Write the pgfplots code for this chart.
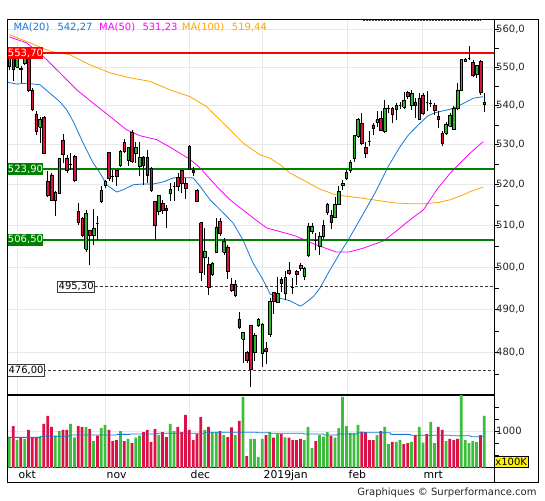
\documentclass[border=0pt]{standalone}
\usepackage{pgfplots}
\pgfplotsset{compat=1.18}
\usepackage{pgfplotstable}
\usepackage{fontspec}
\setmainfont{DejaVu Sans}
\definecolor{cup}{RGB}{50,180,50}
\definecolor{cdn}{RGB}{215,20,60}
\definecolor{vup}{RGB}{60,190,60}
\definecolor{vdn}{RGB}{220,15,70}
\definecolor{ma20}{RGB}{20,120,215}
\definecolor{ma50}{RGB}{255,0,255}
\definecolor{ma100}{RGB}{255,165,0}
\definecolor{lgreen}{RGB}{0,128,0}
\definecolor{gridc}{RGB}{232,232,232}
\definecolor{dgray}{RGB}{60,60,60}

\pgfplotstableread{
i O H L C
-2 550.2 553.5 549.3 552.5
-1 552.5 553.5 546.3 549.5
0 550.0 553.0 549.8 552.5
1 549.7 550.2 545.8 549.5
2 551.1 553.8 550.5 552.8
3 552.8 554.0 543.5 544.1
4 544.1 544.5 538.5 539.0
5 537.9 538.5 532.5 533.4
6 534.5 537.2 530.4 536.6
7 537.0 537.3 527.7 527.9
8 520.8 523.3 517.1 517.5
9 522.5 523.0 515.9 516.3
10 516.1 518.4 512.4 518.2
11 518.0 526.5 517.7 526.5
12 531.2 532.8 525.4 527.5
13 526.7 527.5 523.0 523.7
14 525.2 527.9 523.7 525.2
15 527.1 527.5 520.8 521.2
16 513.4 515.5 510.1 510.7
17 511.8 512.0 507.3 507.7
18 504.3 513.7 503.7 513.0
19 508.9 509.0 500.5 507.7
20 507.7 514.0 505.3 509.3
21 510.5 512.2 506.5 510.5
22 515.9 519.6 515.5 518.6
23 519.8 521.2 519.2 520.8
24 528.1 528.3 521.0 521.7
25 522.1 523.7 520.8 522.1
26 523.5 523.7 519.8 522.1
27 524.8 528.8 524.5 528.3
28 530.6 531.4 528.0 528.3
29 526.1 529.5 524.6 529.4
30 533.2 533.8 525.4 525.8
31 527.9 530.6 525.4 529.4
32 524.6 530.6 522.1 526.9
33 527.0 527.2 520.0 524.8
34 526.9 528.7 520.4 522.5
35 524.2 524.3 518.2 518.6
36 515.9 515.9 506.5 510.1
37 513.4 517.5 512.6 517.3
38 515.5 516.3 512.8 513.8
39 514.3 515.1 509.4 513.7
40 518.0 520.4 515.9 518.8
41 519.7 520.8 515.9 519.7
42 521.8 522.9 518.4 519.6
43 523.6 523.7 517.9 520.4
44 520.4 521.7 516.6 519.2
45 529.7 530.0 523.7 523.9
46 523.7 524.5 522.2 523.2
47 518.6 519.0 515.7 516.0
48 510.7 510.9 496.6 498.8
49 502.3 509.4 498.2 503.9
50 500.7 502.4 493.4 495.2
51 498.3 501.2 497.9 500.9
52 503.6 511.8 503.3 509.6
53 511.1 511.8 507.4 508.1
54 503.5 506.9 502.8 506.1
55 504.8 505.3 497.2 498.9
56 496.0 497.4 494.2 494.4
57 493.2 497.0 492.9 496.0
58 487.7 489.5 485.4 485.9
59 483.1 484.7 477.7 484.6
60 480.1 480.3 477.6 478.2
61 486.2 486.4 472.2 476.1
62 480.0 484.5 478.0 484.1
63 486.3 488.0 486.0 487.7
64 479.9 486.8 476.8 486.6
65 480.9 482.5 477.5 480.2
66 484.3 492.6 483.5 492.0
67 494.0 494.2 489.0 491.8
68 491.7 497.6 491.5 493.7
69 497.0 497.6 494.2 496.2
70 493.8 499.1 492.2 497.5
71 499.3 501.3 498.2 498.6
72 495.2 497.5 493.6 495.2
73 499.0 499.3 495.8 498.2
74 500.5 500.9 499.0 499.7
75 497.8 500.1 496.8 499.7
76 502.8 510.5 502.5 509.7
77 508.5 510.6 508.0 509.9
78 506.5 508.1 504.1 506.5
79 504.9 508.3 502.8 507.5
80 507.3 511.4 506.8 510.1
81 513.2 515.6 512.6 515.1
82 512.6 513.8 509.1 510.7
83 511.9 517.0 511.8 515.1
84 515.3 519.7 515.0 518.5
85 519.8 521.2 518.8 520.4
86 521.7 523.7 521.2 523.1
87 523.6 526.2 522.9 525.6
88 526.5 532.5 525.8 532.3
89 532.1 536.9 531.7 536.5
90 535.5 538.2 530.0 530.4
91 529.4 530.8 526.7 527.9
92 531.0 533.4 529.7 531.0
93 535.1 535.5 532.5 534.1
94 535.8 538.5 534.6 536.4
95 536.8 538.5 533.4 533.8
96 533.4 541.5 533.0 539.3
97 539.3 540.2 538.1 539.3
98 539.3 539.7 535.5 537.8
99 539.2 540.6 536.4 540.0
100 540.2 541.0 539.2 540.2
101 539.7 543.5 539.2 541.3
102 543.5 543.8 541.8 542.3
103 540.0 544.1 538.9 543.2
104 541.0 541.9 536.8 540.2
105 536.6 543.3 536.3 542.0
106 542.8 543.2 537.5 538.1
107 540.9 543.7 538.5 540.9
108 540.6 541.5 539.6 540.6
109 540.0 540.6 537.6 538.7
110 537.2 538.5 534.2 536.4
111 533.0 533.4 529.6 530.4
112 533.0 535.9 532.5 535.3
113 534.8 538.1 534.5 537.6
114 534.0 539.8 533.8 539.4
115 539.3 545.8 538.9 544.1
116 544.1 552.1 543.7 552.0
117 551.5 552.4 551.3 552.1
118 552.4 555.5 552.0 552.4
119 551.2 552.0 547.5 547.8
120 548.2 550.6 547.2 550.4
121 551.5 552.0 542.8 543.5
122 540.4 543.2 538.4 541.0
}\candles

\pgfplotstableread{
i V c
-2 894 1
-1 1083 0
0 850 1
1 889 0
2 867 1
3 1017 0
4 889 0
5 889 0
6 905 1
7 1117 0
8 1250 0
9 1067 0
10 922 1
11 1000 1
12 1017 0
13 1017 0
14 1117 1
15 894 1
16 1083 0
17 1067 0
18 1067 1
19 1033 0
20 833 1
21 922 0
22 1050 1
23 1100 1
24 1017 0
25 833 0
26 850 0
27 1000 1
28 833 0
29 867 1
30 800 0
31 889 1
32 922 1
33 983 0
34 1017 0
35 817 0
36 1033 0
37 933 1
38 983 0
39 900 0
40 1117 1
41 1000 1
42 1067 0
43 983 0
44 1267 0
45 1017 0
46 850 0
47 950 0
48 1233 0
49 1017 1
50 1067 0
51 983 1
52 983 1
53 1000 0
54 933 1
55 900 0
56 1061 0
57 933 1
58 1167 0
59 1567 1
60 583 0
61 867 1
62 867 1
63 567 1
64 867 1
65 933 0
66 983 1
67 890 0
68 955 1
69 950 0
70 894 1
71 889 0
72 850 0
73 850 0
74 867 0
75 850 1
76 1067 1
77 717 1
78 833 0
79 933 1
80 905 1
81 983 1
82 917 0
83 889 1
84 1050 1
85 1567 1
86 1083 1
87 967 1
88 967 1
89 1100 1
90 989 0
91 983 0
92 850 0
93 850 0
94 933 1
95 1000 0
96 1067 1
97 783 1
98 817 0
99 817 1
100 850 1
101 783 0
102 800 0
103 817 1
104 933 0
105 1067 1
106 806 1
107 950 0
108 1150 1
109 800 1
110 1067 0
111 1017 0
112 833 1
113 867 0
114 850 0
115 867 0
116 1600 1
117 850 1
118 800 1
119 833 1
120 817 1
121 933 0
122 1250 1
}\vols

\pgfplotstablegetrowsof{\candles}
\pgfmathtruncatemacro\nrows{\pgfplotsretval-1}

\begin{document}
\begin{tikzpicture}[x=1pt,y=1pt]
\useasboundingbox (0,0) rectangle (545,500);
\fill[white] (0,0) rectangle (545,500);

\begin{axis}[
  at={(7pt,105pt)}, anchor=south west,
  scale only axis, width=487pt, height=375.5pt,
  xmin=-2.61, xmax=124.54,
  ymode=log, ymin=470.43, ymax=562.70,
  axis line style={line width=0.9pt, black},
  xtick={0,22.98,44.91,63.97,86.16,105.74},
  xticklabels={},
  xtick style={draw=none},
  ytick={480,490,500,510,520,530,540,550,560},
  yticklabels={{480,0},{490,0},{500,0},{510,0},{520,0},{530,0},{540,0},{550,0},{560,0}},
  minor ytick={475,485,495,505,515,525,535,545,555},
  ytick pos=right, yticklabel pos=right,
  tick align=outside,
  major tick length=5pt, minor tick length=5pt,
  ytick style={black, line width=0.7pt},
  yticklabel style={font=\fontsize{10}{12}\selectfont, text=black!85, inner sep=1pt, xshift=-4pt},
  xmajorgrids, ymajorgrids,
  major grid style={gridc, line width=0.9pt},
]
% moving averages
\addplot[ma100, line width=0.8pt] coordinates {(-2,558.6)(3.4,556.4)(8.6,554.2)(13.8,553.3)(19.1,550.6)(24.3,548.5)(29.5,547.2)(34.7,546.3)(39.9,544.1)(45.2,542.3)(49.5,539.7)(54.8,534.6)(59.1,530.4)(63.4,527.5)(66.1,526.6)(68.7,525.0)(71.3,522.9)(75.5,520.8)(79.1,518.9)(83.3,517.5)(90,516.7)(98.7,515.5)(103,515.3)(106.1,515.3)(110,515.6)(113.1,516.3)(116.5,517.5)(118.3,518.3)(121.7,519.4)};
\addplot[ma50, line width=0.8pt] coordinates {(-2,558.0)(2.5,556.4)(6.9,552.8)(11.2,548.5)(15.6,544.1)(19.9,540.6)(24.3,537.2)(28.6,533.8)(32.1,532.3)(36.5,531.3)(40.8,528.9)(45.2,526.3)(47.8,524.2)(52.1,519.6)(55.6,516.3)(61.7,511.8)(65.2,509.4)(68.7,508.5)(72.6,507.5)(77.6,505.5)(83.3,503.6)(86.7,503.6)(90.4,504.5)(95.8,506.3)(99.5,509.0)(102.6,511.4)(106.1,513.8)(109.6,518.8)(113.1,522.9)(118.3,527.9)(121.7,530.8)};
\addplot[ma20, line width=0.8pt] coordinates {(-2.3,546.0)(0,545.6)(2.5,545.8)(6,545.4)(8.6,543.2)(11.2,541.0)(13,538.9)(14.7,535.9)(17.3,530.4)(19.9,525.4)(21.7,522.9)(23.4,520.0)(26,518.2)(27.8,518.8)(30.4,520.0)(33,520.2)(35.6,520.2)(38.2,520.7)(40.8,521.7)(42.6,521.8)(46,521.7)(47.8,519.6)(50.4,516.3)(53.4,513.5)(56.4,510.6)(59,506.5)(61.6,501.0)(64.2,497.0)(66.1,493.6)(68.7,492.6)(71.3,492.0)(73.9,490.8)(74.7,491.1)(77.4,493.0)(79.1,495.0)(81.7,499.3)(84.3,503.3)(86.5,506.5)(90,512.2)(93.5,518.0)(96.9,524.5)(100,529.5)(102.2,532.5)(104.8,535.1)(107.3,537.4)(109.3,538.2)(113.1,539.1)(114.8,539.7)(117.4,541.0)(119.1,541.9)(121.7,542.3)};
% horizontal levels
\addplot[red, line width=2.3pt] coordinates {(-2.61,553.7)(124.54,553.7)};
\addplot[lgreen, line width=1.2pt] coordinates {(-2.61,523.9)(124.54,523.9)};
\addplot[lgreen, line width=2.2pt] coordinates {(-2.61,506.5)(124.54,506.5)};
\addplot[dgray, line width=0.8pt, dash pattern=on 3pt off 2pt] coordinates {(20.3,495.3)(124.54,495.3)};
\addplot[dgray, line width=0.8pt, dash pattern=on 3pt off 2pt] coordinates {(6.9,476.0)(124.54,476.0)};
\addplot[dgray, line width=0.8pt, dash pattern=on 2pt off 1pt] coordinates {(90.3,562.45)(120.9,562.45)};
% candles
\pgfplotsinvokeforeach{0,...,\nrows}{%
  \pgfplotstablegetelem{#1}{i}\of\candles \let\ci\pgfplotsretval
  \pgfplotstablegetelem{#1}{O}\of\candles \let\cO\pgfplotsretval
  \pgfplotstablegetelem{#1}{H}\of\candles \let\cH\pgfplotsretval
  \pgfplotstablegetelem{#1}{L}\of\candles \let\cL\pgfplotsretval
  \pgfplotstablegetelem{#1}{C}\of\candles \let\cC\pgfplotsretval
  \pgfmathsetmacro\xa{\ci-0.34}%
  \pgfmathsetmacro\xb{\ci+0.34}%
  \ifdim\cC pt<\cO pt \def\ccol{cdn}\else\def\ccol{cup}\fi
  \edef\tmp{\noexpand\addplot[black, line width=0.55pt, forget plot] coordinates {(\ci,\cL) (\ci,\cH)};
    \noexpand\addplot[fill=\ccol, draw=black, line width=0.45pt, forget plot] coordinates {(\xa,\cO) (\xb,\cO) (\xb,\cC) (\xa,\cC) (\xa,\cO)};}%
  \tmp
}
% level labels
\node[anchor=west, fill=red, text=white, inner xsep=0.5pt, inner ysep=0pt, minimum height=11.7pt, xshift=0.3pt] at (axis cs:-2.61,553.7) {553,70};
\node[anchor=west, fill=lgreen, text=white, inner xsep=0.5pt, inner ysep=0pt, minimum height=11.7pt, xshift=0.3pt] at (axis cs:-2.61,523.9) {523,90};
\node[anchor=west, fill=lgreen, text=white, inner xsep=0.5pt, inner ysep=0pt, minimum height=11.7pt, xshift=0.3pt] at (axis cs:-2.61,506.5) {506,50};
\node[anchor=west, fill=white, draw=dgray, line width=0.7pt, text=black, inner xsep=1pt, inner ysep=0pt, minimum height=11.5pt] at (axis cs:10.52,495.3) {495,30};
\node[anchor=west, fill=white, draw=dgray, line width=0.7pt, text=black, inner xsep=1pt, inner ysep=0pt, minimum height=11.5pt] at (axis cs:-2.55,476.0) {476,00};
\end{axis}

\begin{axis}[
  at={(7pt,33pt)}, anchor=south west,
  scale only axis, width=487pt, height=72pt,
  xmin=-2.61, xmax=124.54, ymin=400, ymax=1600,
  axis line style={line width=0.9pt, black},
  xtick={0,22.98,44.91,63.97,86.16,105.74},
  xticklabels={},
  xtick style={draw=none},
  ytick={1000}, yticklabels={1000},
  minor ytick={600,800,1200,1400},
  ytick pos=right, yticklabel pos=right,
  tick align=outside,
  major tick length=5pt, minor tick length=5pt,
  ytick style={black, line width=0.7pt},
  yticklabel style={font=\fontsize{10}{12}\selectfont, text=black!85, inner sep=1pt, xshift=-4pt},
  xmajorgrids, ymajorgrids,
  major grid style={gridc, line width=0.9pt},
]
\addplot[ybar, bar width=0.72, bar shift=0pt, fill=vup, draw=none] table[x=i, y expr=\thisrow{V}*\thisrow{c}] {\vols};
\addplot[ybar, bar width=0.72, bar shift=0pt, fill=vdn, draw=none] table[x=i, y expr=\thisrow{V}*(1-\thisrow{c})] {\vols};
\addplot[ma20, line width=0.8pt] coordinates {(-2.3,894)(6,894)(6.2,911)(13.4,911)(13.8,933)(26,933)(26.2,944)(29.5,944)(29.7,950)(36.5,950)(36.9,961)(49,961)(49.2,978)(62.6,978)(62.8,972)(66,972)(66.1,961)(74.8,961)(75,950)(80,950)(80.2,933)(83.5,933)(83.7,950)(88.7,950)(88.9,972)(97.4,972)(97.6,944)(102.6,944)(102.8,928)(113.1,928)(113.3,922)(118.3,922)(118.5,905)(121.7,905)};
\end{axis}

% frame
\draw[black, line width=0.9pt] (7,17.7) rectangle (538,480.5);
\draw[black, line width=0.9pt] (494,17.7) -- (494,33);

% legend
\node[anchor=base west, inner sep=0pt, text=ma20] at (13.3,469.3) {MA(20)};
\node[anchor=base west, inner sep=0pt, text=ma20] at (57.3,469.3) {542,27};
\node[anchor=base west, inner sep=0pt, text=ma50] at (99,469.3) {MA(50)};
\node[anchor=base west, inner sep=0pt, text=ma50] at (142.3,469.3) {531,23};
\node[anchor=base west, inner sep=0pt, text=ma100] at (181.7,469.3) {MA(100)};
\node[anchor=base west, inner sep=0pt, text=ma100] at (231.7,469.3) {519,44};

% months
\node[anchor=base west, inner sep=0pt, font=\fontsize{10.8}{12}\selectfont] at (18.5,21.7) {okt};
\node[anchor=base west, inner sep=0pt, font=\fontsize{10.8}{12}\selectfont] at (106.5,21.7) {nov};
\node[anchor=base west, inner sep=0pt, font=\fontsize{10.8}{12}\selectfont] at (190.5,21.7) {dec};
\node[anchor=base west, inner sep=0pt, font=\fontsize{10.8}{12}\selectfont] at (263.5,21.7) {2019jan};
\node[anchor=base west, inner sep=0pt, font=\fontsize{10.8}{12}\selectfont] at (348.5,21.7) {feb};
\node[anchor=base west, inner sep=0pt, font=\fontsize{10.8}{12}\selectfont] at (423.5,21.7) {mrt};

% unit box
\node[fill=yellow, draw=black, line width=0.7pt, minimum width=34pt, minimum height=10.6pt, inner sep=0pt] at (511.2,38.1) {x100K};

% copyright
\node[anchor=base east, inner sep=0pt, text=black!85] at (536.7,5) {Graphiques © Surperformance.com};
\end{tikzpicture}
\end{document}
